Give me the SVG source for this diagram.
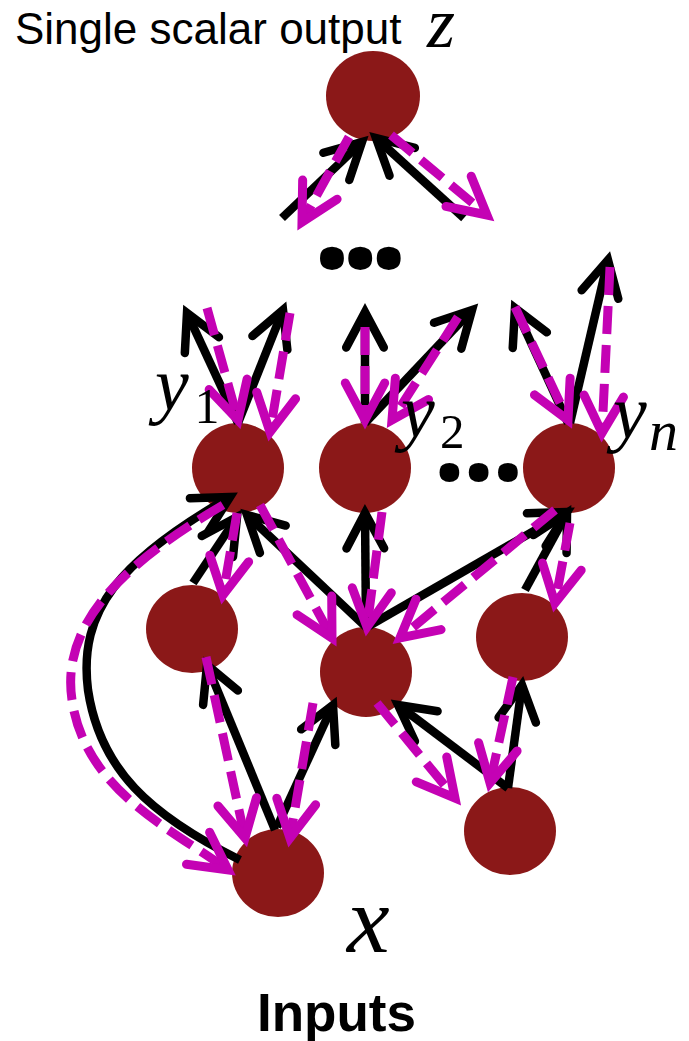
<svg xmlns="http://www.w3.org/2000/svg" width="689" height="1041" viewBox="0 0 689 1041">
<style>
.node{fill:#8B1818}
.fw{fill:none;stroke:#000;stroke-width:8.5;marker-end:url(#ak)}
.bw{fill:none;stroke:#C402B4;stroke-width:9;stroke-dasharray:28 11;marker-end:url(#am)}
.lbl{font-family:"Liberation Sans",Arial,sans-serif;fill:#000}
.math{font-family:"Liberation Serif","Times New Roman",serif;font-style:italic;fill:#000}
.sub{font-family:"Liberation Serif","Times New Roman",serif;font-style:normal}
.dots{font-family:"Open Sans","Liberation Sans",sans-serif;font-weight:bold;fill:#000}
</style>
<defs>
<marker id="ak" orient="auto" markerUnits="userSpaceOnUse" markerWidth="1" markerHeight="1" refX="0" refY="0" style="overflow:visible">
<path d="M-35.4,-18.8 L0,0 L-35.4,18.8" fill="none" stroke="#000" stroke-width="8.5" stroke-linecap="round" stroke-linejoin="miter"/>
</marker>
<marker id="am" orient="auto" markerUnits="userSpaceOnUse" markerWidth="1" markerHeight="1" refX="0" refY="0" style="overflow:visible">
<path d="M-37,-19.7 L0,0 L-37,19.7" fill="none" stroke="#C402B4" stroke-width="9" stroke-linecap="round" stroke-linejoin="miter"/>
</marker>
</defs>
<rect width="689" height="1041" fill="#fff"/>

<text class="lbl" x="15" y="44" font-size="44">Single scalar output</text>
<text class="math" x="427" y="47" font-size="72">z</text>

<g id="node-z"><ellipse class="node" cx="373" cy="96" rx="47" ry="45"/></g>
<g id="node-y1"><ellipse class="node" cx="238" cy="468" rx="46" ry="45"/></g>
<g id="node-y2"><ellipse class="node" cx="365" cy="468" rx="46" ry="45"/></g>
<g id="node-yn"><ellipse class="node" cx="569" cy="468" rx="46" ry="45"/></g>
<g id="node-left"><ellipse class="node" cx="192" cy="629" rx="46" ry="44"/></g>
<g id="node-center"><ellipse class="node" cx="366" cy="672" rx="46" ry="45"/></g>
<g id="node-right"><ellipse class="node" cx="522" cy="637" rx="46" ry="44"/></g>
<g id="node-x"><ellipse class="node" cx="278" cy="873" rx="46" ry="44"/></g>
<g id="node-br"><ellipse class="node" cx="510" cy="831" rx="46" ry="44"/></g>

<g id="connectors">
<path class="fw" d="M282,218 L362,142"/>
<path class="fw" d="M464,218 L376,138"/>
<path class="fw" d="M238,423 L187,313"/>
<path class="fw" d="M238,423 L283,310"/>
<path class="fw" d="M365,423 L365,312"/>
<path class="fw" d="M365,423 L472,310"/>
<path class="fw" d="M568,423 L515,308"/>
<path class="fw" d="M570,423 L608,260"/>
<path class="fw" d="M240,860 C150,815 100,770 88,690 C78,610 120,560 230,497"/>
<path class="fw" d="M193,583 L237,517"/>
<path class="fw" d="M367,628 L247,515"/>
<path class="fw" d="M366,627 L365,513"/>
<path class="fw" d="M367,627 L567,512"/>
<path class="fw" d="M525,590 L567,513"/>
<path class="fw" d="M275,830 L207,665"/>
<path class="fw" d="M277,827 L333,705"/>
<path class="fw" d="M508,788 L398,705"/>
<path class="fw" d="M508,788 L522,685"/>

<path class="bw" d="M349,137 L302,222"/>
<path class="bw" d="M391,135 L487,215"/>
<path class="bw" d="M207,308 L238,420"/>
<path class="bw" d="M290,313 L270,432"/>
<path class="bw" d="M365,327 L365,420"/>
<path class="bw" d="M458,317 L392,420"/>
<path class="bw" d="M515,307 L568,420"/>
<path class="bw" d="M610,267 L602,433"/>
<path class="bw" d="M223,505 C130,560 60,620 72,700 C85,790 170,828 228,870"/>
<path class="bw" d="M237,513 L223,595"/>
<path class="bw" d="M260,505 L332,638"/>
<path class="bw" d="M382,512 L367,627"/>
<path class="bw" d="M555,510 L400,638"/>
<path class="bw" d="M570,523 L555,603"/>
<path class="bw" d="M206,657 L245,838"/>
<path class="bw" d="M313,703 L290,838"/>
<path class="bw" d="M377,703 L455,798"/>
<path class="bw" d="M513,677 L490,783"/>
</g>

<text class="dots" x="312" y="268" font-size="140" letter-spacing="-11.6">...</text>
<text class="dots" x="433" y="480" font-size="115" letter-spacing="-3.5">...</text>

<text class="math" x="155" y="410" font-size="76">y<tspan class="sub" x="194.5" y="423" font-size="50">1</tspan></text>
<text class="math" x="401" y="437" font-size="76">y<tspan class="sub" x="440" y="448" font-size="49">2</tspan></text>
<text class="math" x="613" y="438" font-size="76">y<tspan x="649" y="450" font-size="58">n</tspan></text>
<text class="math" x="347" y="952" font-size="96">x</text>

<text class="lbl" x="257" y="1031" font-size="53" font-weight="bold">Inputs</text>
</svg>
